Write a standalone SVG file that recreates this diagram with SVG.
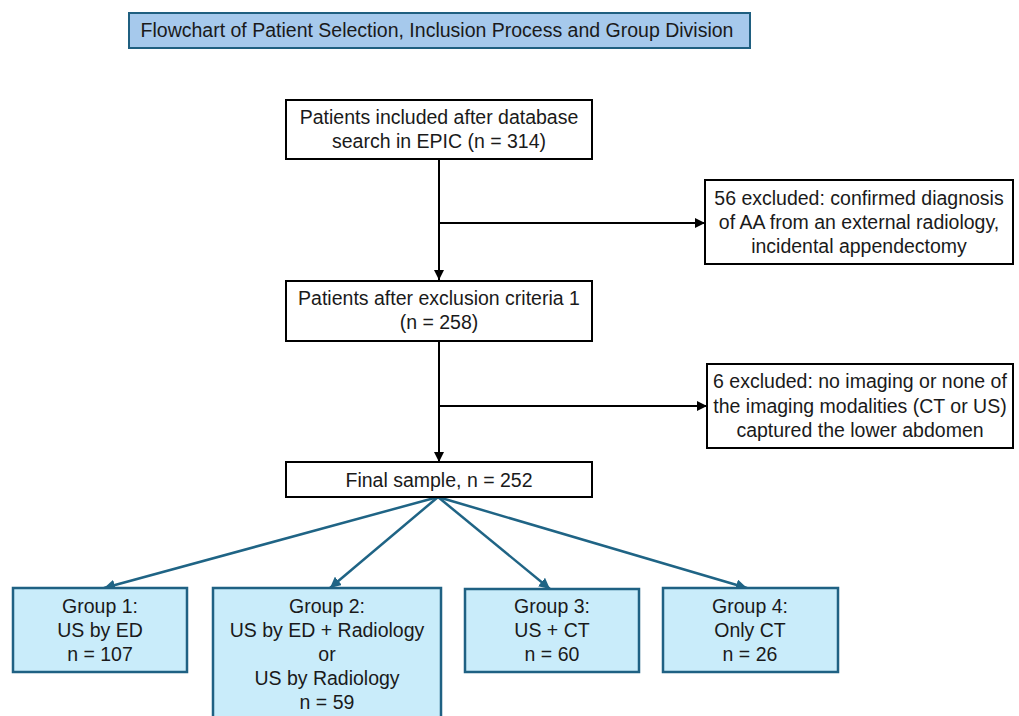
<svg xmlns="http://www.w3.org/2000/svg" width="1019" height="716" viewBox="0 0 1019 716">
<defs>
<style>
text{font-family:"Liberation Sans",Arial,sans-serif;font-size:19.5px;fill:#1a1a1a;text-anchor:middle}
.bw{fill:#fff;stroke:#000;stroke-width:2}
.grp{fill:#c9ecfa;stroke:#1f6183;stroke-width:2.5}
.ttl{fill:#a6c9ec;stroke:#1f5f80;stroke-width:2}
.blk{stroke:#000;stroke-width:2;fill:none}
.tl{stroke:#1f6485;stroke-width:2.5;fill:none}
</style>
<marker id="ab" viewBox="0 0 10 10" refX="10" refY="5" markerWidth="10" markerHeight="10" markerUnits="userSpaceOnUse" orient="auto"><path d="M0,0 L10,5 L0,10 z" fill="#000"/></marker>
<marker id="at" viewBox="0 0 10 10" refX="10" refY="5" markerWidth="11" markerHeight="11" markerUnits="userSpaceOnUse" orient="auto"><path d="M0,0 L10,5 L0,10 z" fill="#1f6485"/></marker>
</defs>
<rect width="1019" height="716" fill="#fff"/>
<g id="title"><rect class="ttl" x="129" y="13" width="621" height="35"/><text x="437" y="37">Flowchart of Patient Selection, Inclusion Process and Group Division</text></g>
<g id="connectors">
<line class="blk" x1="439" y1="159" x2="439" y2="280" marker-end="url(#ab)"/>
<line class="blk" x1="439" y1="223" x2="705" y2="223" marker-end="url(#ab)"/>
<line class="blk" x1="439" y1="341" x2="439" y2="462" marker-end="url(#ab)"/>
<line class="blk" x1="439" y1="406" x2="707" y2="406" marker-end="url(#ab)"/>
<line class="tl" x1="438" y1="497" x2="104" y2="588" marker-end="url(#at)"/>
<line class="tl" x1="438" y1="497" x2="330" y2="588" marker-end="url(#at)"/>
<line class="tl" x1="438" y1="497" x2="550" y2="589" marker-end="url(#at)"/>
<line class="tl" x1="438" y1="497" x2="747" y2="588" marker-end="url(#at)"/>
</g>
<g id="n1"><rect class="bw" x="286" y="100" width="306" height="59"/><text x="439" y="124">Patients included after database</text><text x="439" y="148">search in EPIC (n = 314)</text></g>
<g id="ex1"><rect class="bw" x="705" y="180" width="308" height="84"/><text x="859" y="205">56 excluded: confirmed diagnosis</text><text x="859" y="229">of AA from an external radiology,</text><text x="859" y="253">incidental appendectomy</text></g>
<g id="n2"><rect class="bw" x="286" y="281" width="306" height="60"/><text x="439" y="305">Patients after exclusion criteria 1</text><text x="439" y="329">(n = 258)</text></g>
<g id="ex2"><rect class="bw" x="707" y="364" width="306" height="84"/><text x="860" y="388">6 excluded: no imaging or none of</text><text x="860" y="413">the imaging modalities (CT or US)</text><text x="860" y="437">captured the lower abdomen</text></g>
<g id="n3"><rect class="bw" x="286" y="462" width="306" height="35"/><text x="439" y="487">Final sample, n = 252</text></g>
<g id="g1"><rect class="grp" x="13" y="588" width="174" height="84"/><text x="100" y="613">Group 1:</text><text x="100" y="637">US by ED</text><text x="100" y="661">n = 107</text></g>
<g id="g2"><rect class="grp" x="213" y="588" width="228" height="140"/><text x="327" y="613">Group 2:</text><text x="327" y="637">US by ED + Radiology</text><text x="327" y="661">or</text><text x="327" y="685">US by Radiology</text><text x="327" y="709">n = 59</text></g>
<g id="g3"><rect class="grp" x="465" y="589" width="174" height="83"/><text x="552" y="613">Group 3:</text><text x="552" y="637">US + CT</text><text x="552" y="661">n = 60</text></g>
<g id="g4"><rect class="grp" x="663" y="588" width="175" height="84"/><text x="750" y="613">Group 4:</text><text x="750" y="637">Only CT</text><text x="750" y="661">n = 26</text></g>
</svg>
